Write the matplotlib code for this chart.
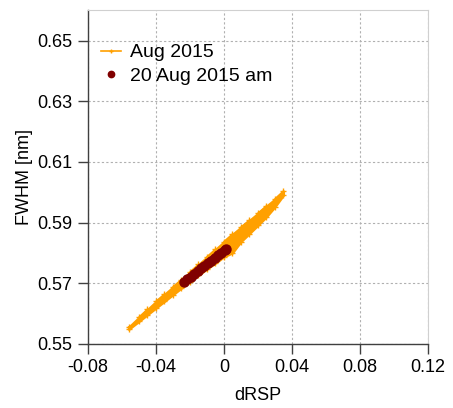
import matplotlib.pyplot as plt

plt.rcParams['font.family'] = ['Liberation Sans', 'DejaVu Sans']

aug_x = [-0.056, -0.050, -0.045, -0.040, -0.035, -0.030, -0.025, -0.020, -0.015, -0.010,
         -0.005, 0.000, 0.005, 0.010, 0.015, 0.020, 0.025, 0.030, 0.035]
aug_upper = [0.5556, 0.5588, 0.5614, 0.5640, 0.5664, 0.5688, 0.5712, 0.5737, 0.5762, 0.5787,
             0.5812, 0.5837, 0.5862, 0.5885, 0.5908, 0.5931, 0.5955, 0.5978, 0.6004]
aug_lower = [0.5548, 0.5574, 0.5596, 0.5618, 0.5640, 0.5662, 0.5684, 0.5705, 0.5726, 0.5747,
             0.5766, 0.5787, 0.5800, 0.5837, 0.5864, 0.5891, 0.5919, 0.5952, 0.5990]

# 20 Aug 2015 morning
am_x = [-0.0235, -0.0215, -0.0195, -0.0175, -0.0155, -0.0135, -0.0115, -0.0095,
        -0.0075, -0.0055, -0.0035, -0.0015, 0.0005, 0.0012]
am_y = [0.5704, 0.5713, 0.5722, 0.5731, 0.5740, 0.5749, 0.5758, 0.5766,
        0.5775, 0.5784, 0.5793, 0.5801, 0.5810, 0.5813]

xticks = [-0.08, -0.04, 0, 0.04, 0.08, 0.12]
xtick_labels = ['-0.08', '-0.04', '0', '0.04', '0.08', '0.12']
yticks = [0.55, 0.57, 0.59, 0.61, 0.63, 0.65]

orange = '#ffa000'
darkred = '#800000'

fig = plt.figure(figsize=(4.53, 4.08), dpi=100)
ax = fig.add_axes([0.194, 0.157, 0.751, 0.818])

# zigzag through the band so the line covers it
zx, zy = [], []
for i in range(len(aug_x)):
    zx += [aug_x[i], aug_x[i]]
    zy += [aug_upper[i], aug_lower[i]] if i % 2 == 0 else [aug_lower[i], aug_upper[i]]

ax.fill_between(aug_x, aug_lower, aug_upper, color=orange, lw=1.5, edgecolor=orange, zorder=2)
ax.plot(zx, zy, color=orange, lw=1.2, marker='+', ms=4, label='Aug 2015', zorder=3)
# thick stroke under the dots so the morning points read as one band
ax.plot(am_x, am_y, color=darkred, lw=5.5, solid_capstyle='round', zorder=4)
ax.plot(am_x, am_y, ls='none', marker='o', ms=6.5, color=darkred, mec=darkred,
        label='20 Aug 2015 am', zorder=5)

ax.set_xlim(-0.08, 0.12)
ax.set_ylim(0.55, 0.66)
ax.set_xticks(xticks)
ax.set_xticklabels(xtick_labels)
ax.set_yticks(yticks)
ax.set_yticklabels(['%.2f' % v for v in yticks])

ax.grid(True, color='#b0b0b0', ls=(0, (2, 2)), lw=0.8)
ax.set_axisbelow(True)

for s in ['top', 'right']:
    ax.spines[s].set_color('#d0d0d0')
for s in ['left', 'bottom']:
    ax.spines[s].set_color('#404040')
    ax.spines[s].set_linewidth(1.0)
ax.tick_params(axis='both', direction='out', length=7, width=1, color='#404040',
               labelsize=13, labelcolor='black', pad=4)
ax.tick_params(top=False, right=False)

ax.set_xlabel('dRSP', fontsize=13, labelpad=8)
ax.set_ylabel('FWHM [nm]', fontsize=13, labelpad=3)

ax.legend(loc='upper left', frameon=False, fontsize=14, bbox_to_anchor=(0.0, 0.94),
          handlelength=1.0, handletextpad=0.45, labelspacing=0.3, borderaxespad=0.3,
          markerscale=0.7)

fig.savefig('out.png', dpi=100)
